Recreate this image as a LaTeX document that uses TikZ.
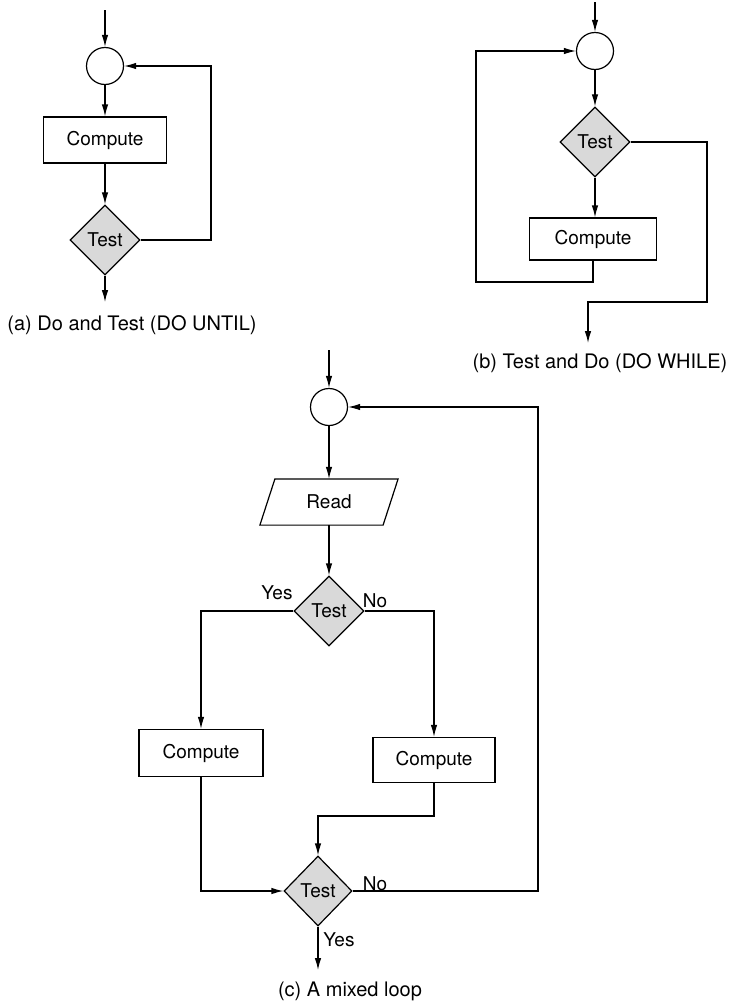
\documentclass[tikz,border=0pt]{standalone}
\usepackage{fontspec}
\setmainfont{TeX Gyre Heros}
\usetikzlibrary{shapes.geometric,arrows.meta}
\begin{document}
\begin{tikzpicture}[x=1pt,y=-1pt,
  font=\fontsize{19}{22}\selectfont,
  line width=1.2pt,
  arr/.style={-{Latex[length=12pt,width=6.5pt]}},
  joint/.style={circle,draw,minimum size=37pt,inner sep=0pt},
  proc/.style={rectangle,draw,minimum width=123pt,minimum height=46pt,inner sep=0pt},
  testdia/.style={diamond,draw,fill=gray!30,minimum width=70pt,minimum height=70pt,inner sep=0pt},
  readbox/.style={rectangle,minimum width=122pt,minimum height=45pt,inner sep=0pt},
  lbl/.style={inner sep=0pt},
  captext/.style={inner sep=0pt,font=\fontsize{20}{23}\selectfont}]
\useasboundingbox (0,0) rectangle (731,1004);

% ---------- (a) ----------
\coordinate (aIn) at (105,10);
\node[joint] (aJ) at (105,66) {};
\node[proc] (aC) at (105,140) {Compute};
\node[testdia] (aT) at (105,240) {Test};
\coordinate (aR) at (211,240);
\coordinate (aOut) at (105,302);
\draw[arr] (aIn) -- (aJ);
\draw[arr] (aJ) -- (aC);
\draw[arr] (aC) -- (aT);
\draw[arr] (aT.east) -- (aR) |- (aJ.east);
\draw[arr] (aT) -- (aOut);
\node[captext] (capA) at (132,325) {(a) Do and Test (DO UNTIL)};

% ---------- (b) ----------
\coordinate (bIn) at (595,2);
\node[joint] (bJ) at (595,51) {};
\node[testdia] (bT) at (595,142) {Test};
\node[proc,minimum width=127pt,minimum height=42pt] (bC) at (593,239) {Compute};
\coordinate (bBL) at (476,282);
\coordinate (bR) at (707,302);
\coordinate (bOut) at (588,343);
\draw[arr] (bIn) -- (bJ);
\draw[arr] (bJ) -- (bT);
\draw[arr] (bT.south) -- (bT.south |- bC.north);
\draw[arr] (bC.south) |- (bBL) |- (bJ.west);
\draw[arr] (bT.east) -| (bR) -| (bOut);
\node[captext] (capB) at (600,363) {(b) Test and Do (DO WHILE)};

% ---------- (c) ----------
\coordinate (cIn) at (329,350);
\node[joint] (cJ) at (329,407) {};
\node[readbox] (cR) at (329,502) {Read};
\draw ([xshift=-7.5pt]cR.south west) -- ([xshift=7.5pt]cR.north west)
   -- ([xshift=7.5pt]cR.north east) -- ([xshift=-7.5pt]cR.south east) -- cycle;
\node[testdia] (cT1) at (329,611) {Test};
\node[proc,minimum width=124pt,minimum height=47pt] (cC1) at (201,753) {Compute};
\node[proc,minimum width=122pt,minimum height=45pt] (cC2) at (434,760) {Compute};
\node[testdia,minimum width=68pt] (cT2) at (318,891) {Test};
\coordinate (cM) at (434,816);
\coordinate (cRt) at (538,891);
\coordinate (cOut) at (318,970);
\draw[arr] (cIn) -- (cJ);
\draw[arr] (cJ) -- (cR.north);
\draw[arr] (cR.south) -- (cT1);
\draw[arr] (cT1.west) -| (cC1.north);
\draw[arr] (cT1.east) -| (cC2.north);
\draw[arr] (cC1.south) |- (cT2.west);
\draw[arr] (cC2.south) -- (cM) -| (cT2.north);
\draw[arr] (cT2.east) -- (cRt) |- (cJ.east);
\draw[arr] (cT2.south) -- (cOut);
\node[lbl] (yes1) at (277,593) {Yes};
\node[lbl] (no1) at (375,601) {No};
\node[lbl] (no2) at (375,884) {No};
\node[lbl] (yes2) at (339,940) {Yes};
\node[captext] (capC) at (350,991) {(c) A mixed loop};
\end{tikzpicture}
\end{document}
